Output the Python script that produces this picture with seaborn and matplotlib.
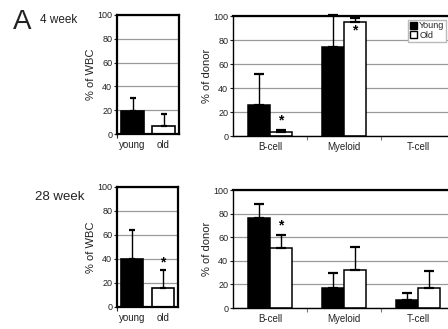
import matplotlib
matplotlib.use("Agg")
import matplotlib.pyplot as plt
import seaborn as sns
import pandas as pd
import numpy as np
from matplotlib.patches import Patch

sns.set_theme(style="white")
plt.rcParams['font.family'] = ['Liberation Sans', 'DejaVu Sans']

# ---- data ----
wbc_groups = ["young", "old"]
wbc_4wk = [19, 7]
wbc_4wk_err = [11, 10]
wbc_28wk = [40, 16]
wbc_28wk_err = [24, 15]

lineages = ["B-cell", "Myeloid", "T-cell"]
donor_4wk_young = [26, 74, 0]
donor_4wk_young_err = [26, 27, 0]
donor_4wk_old = [3, 95, 0]
donor_4wk_old_err = [2, 3, 0]
donor_28wk_young = [76, 17, 7]
donor_28wk_young_err = [12, 13, 6]
donor_28wk_old = [51, 32, 17]
donor_28wk_old_err = [11, 20, 14]

yticks = [0, 20, 40, 60, 80, 100]

W, H = 448, 329
fig = plt.figure(figsize=(W / 100, H / 100), dpi=100)


def pos(l, r, t, b):
    return [l / W, 1 - b / H, (r - l) / W, (b - t) / H]


def style_axis(ax, n, thick_all):
    ax.set_ylim(0, 100)
    ax.set_xlim(-0.5, n - 0.5)
    ax.set_yticks(yticks)
    ax.yaxis.grid(True, color="#9a9a9a", linewidth=0.9)
    ax.set_axisbelow(True)
    ax.tick_params(axis="y", labelsize=6.5, length=2.5, width=0.8, pad=1,
                   left=True, colors="#222222")
    ax.tick_params(axis="x", labelsize=7, length=0, pad=4, colors="#222222")
    for s in ax.spines.values():
        s.set_color("black")
        s.set_visible(True)
    if thick_all:
        for s in ax.spines.values():
            s.set_linewidth(1.6)
    else:
        ax.spines["top"].set_linewidth(1.6)
        ax.spines["left"].set_linewidth(1.0)
        ax.spines["bottom"].set_linewidth(1.0)
        ax.spines["right"].set_linewidth(1.6)
    ax.set_xlabel("")


def wbc_panel(rect, vals, errs, star_y):
    ax = fig.add_axes(rect)
    df = pd.DataFrame({"group": wbc_groups, "val": vals})
    sns.barplot(data=df, x="group", y="val", hue="group",
                palette=["black", "white"], edgecolor="black", linewidth=1.2,
                width=0.72, errorbar=None, legend=False, ax=ax)
    xs = [p.get_x() + p.get_width() / 2 for p in ax.patches]
    ax.errorbar(xs, vals, yerr=[np.zeros(len(errs)), errs], fmt="none",
                ecolor="black", elinewidth=1.0, capsize=2.5, capthick=1.6)
    style_axis(ax, 2, True)
    ax.set_ylabel("% of WBC", fontsize=8, labelpad=1, color="#222222")
    ax.set_xticks([-0.5], minor=True)
    ax.tick_params(axis="x", which="minor", length=3, width=0.8, bottom=True)
    if star_y is not None:
        ax.text(xs[1], star_y, "*", ha="center", va="center", fontsize=10,
                fontweight="bold", color="black")
    return ax


def donor_panel(rect, young, young_err, old, old_err, stars, legend):
    ax = fig.add_axes(rect)
    df = pd.DataFrame({
        "lineage": lineages * 2,
        "age": ["Young"] * 3 + ["Old"] * 3,
        "val": young + old,
    })
    sns.barplot(data=df, x="lineage", y="val", hue="age",
                hue_order=["Young", "Old"], palette=["black", "white"],
                edgecolor="black", linewidth=1.1, width=0.6, errorbar=None,
                legend=False, ax=ax)
    patches = ax.patches
    for p in patches:
        if p.get_height() == 0:
            p.set_visible(False)
    x_y = [p.get_x() + p.get_width() / 2 for p in patches[:3]]
    x_o = [p.get_x() + p.get_width() / 2 for p in patches[3:6]]
    for xs, v, e in ((x_y, young, young_err), (x_o, old, old_err)):
        xs2 = [x for x, vv in zip(xs, v) if vv > 0]
        v2 = [vv for vv in v if vv > 0]
        e2 = [ee for ee, vv in zip(e, v) if vv > 0]
        ax.errorbar(xs2, v2, yerr=[np.zeros(len(e2)), e2], fmt="none",
                    ecolor="black", elinewidth=1.0, capsize=3.5, capthick=1.6,
                    clip_on=False)
    style_axis(ax, 3, False)
    ax.set_ylabel("% of donor", fontsize=8, labelpad=1, color="#222222")
    ax.set_xticks([0.5, 1.5], minor=True)
    ax.tick_params(axis="x", which="minor", length=3, width=0.8, bottom=True,
                   colors="#777777")
    for i, sy in stars:
        ax.text(x_o[i], sy, "*", ha="center", va="center", fontsize=10,
                fontweight="bold", color="black")
    if legend:
        h = [Patch(facecolor="black", edgecolor="black", label="Young"),
             Patch(facecolor="white", edgecolor="black", label="Old")]
        ax.legend(handles=h, loc="upper left", bbox_to_anchor=(0.79, 0.97),
                  fontsize=6.5, frameon=True, framealpha=1, edgecolor="#bbbbbb",
                  fancybox=False, handlelength=0.8, handleheight=0.8,
                  handletextpad=0.2, borderpad=0.2, labelspacing=0.05,
                  borderaxespad=0)
    return ax


wbc_panel(pos(117, 179, 15, 134), wbc_4wk, wbc_4wk_err, None)
donor_panel(pos(233, 455, 16, 136), donor_4wk_young, donor_4wk_young_err,
            donor_4wk_old, donor_4wk_old_err, [(0, 13), (1, 88)], True)
wbc_panel(pos(117, 178, 187, 307), wbc_28wk, wbc_28wk_err, 37)
donor_panel(pos(233, 455, 190, 308), donor_28wk_young, donor_28wk_young_err,
            donor_28wk_old, donor_28wk_old_err, [(0, 70)], False)

fig.text(13 / W, 1 - 22 / H, "A", fontsize=20, ha="left", va="center",
         color="#222222")
fig.text(40 / W, 1 - 20 / H, "4 week", fontsize=8.5, ha="left", va="center",
         color="#222222")
fig.text(35 / W, 1 - 197 / H, "28 week", fontsize=9.5, ha="left", va="center",
         color="#222222")

fig.savefig("out.png", dpi=100)
